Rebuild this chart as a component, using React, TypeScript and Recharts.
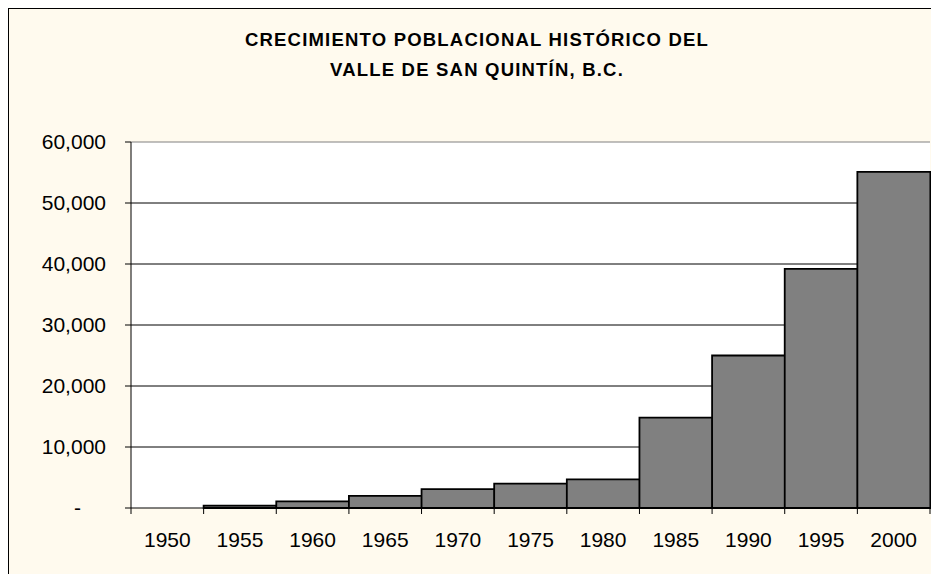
import React from "react";
import { BarChart, Bar, XAxis, YAxis, CartesianGrid, ReferenceLine } from "recharts";

const years = ["1950", "1955", "1960", "1965", "1970", "1975", "1980", "1985", "1990", "1995", "2000"];
const population = [0, 400, 1100, 2000, 3100, 4000, 4700, 14800, 25000, 39200, 55100];
const yTicks = [0, 10000, 20000, 30000, 40000, 50000, 60000];
const gridValues = [10000, 20000, 30000, 40000, 50000];
const titleLines = ["CRECIMIENTO POBLACIONAL HISTÓRICO DEL", "VALLE DE SAN QUINTÍN, B.C."];

const data = years.map((y, i) => ({ year: y, value: population[i] }));

const W = 931;
const H = 574;
const FRAME_H = 582;
const M = { top: 134, right: 9, bottom: 0, left: 0 };
const Y_W = 123;
const X_H = 74;
const PLOT_W = W - M.left - M.right - Y_W;
const BAND = PLOT_W / years.length;
const FONT = "'Liberation Sans', Arial, sans-serif";

const fmt = (v: number) => (v === 0 ? "-" : v.toLocaleString("en-US"));

const XTick = (props: any) => {
  const { x, y, payload, index } = props;
  const half = BAND / 2;
  return (
    <g>
      <line x1={x - half} x2={x - half} y1={y} y2={y + 6} stroke="#000" strokeWidth={1} />
      {index === years.length - 1 && (
        <line x1={x + half} x2={x + half} y1={y} y2={y + 6} stroke="#000" strokeWidth={1} />
      )}
      <text x={x} y={y + 39} textAnchor="middle" fontSize={21} fill="#000" fontFamily={FONT}>
        {payload.value}
      </text>
    </g>
  );
};

const YTick = (props: any) => {
  const { x, y, payload } = props;
  const isZero = payload.value === 0;
  return (
    <text
      x={isZero ? x - 25 : x}
      y={y}
      dy="0.355em"
      textAnchor="end"
      fontSize={21}
      fill="#000"
      fontFamily={FONT}
    >
      {fmt(payload.value)}
    </text>
  );
};

export default function App() {
  return (
    <div
      style={{
        position: "relative",
        width: W,
        height: FRAME_H,
        background: "#FFFAEE",
        marginBottom: -16,
        overflow: "hidden",
      }}
    >
      <div
        style={{
          position: "absolute",
          left: 0,
          top: 0,
          width: W,
          height: FRAME_H,
          borderTop: "1px solid #000",
          borderLeft: "1px solid #000",
          boxSizing: "border-box",
          pointerEvents: "none",
        }}
      />
      <div
        style={{
          position: "absolute",
          left: 0,
          top: 0,
          width: 938,
          textAlign: "center",
          fontFamily: FONT,
          fontWeight: "bold",
          fontSize: 18.5,
          letterSpacing: 1.2,
          color: "#000",
          lineHeight: "30px",
          paddingTop: 17,
        }}
      >
        {titleLines.map((t) => (
          <div key={t}>{t}</div>
        ))}
      </div>
      <div style={{ position: "absolute", left: 0, top: 0 }}>
        <BarChart width={W} height={H} data={data} margin={M} barCategoryGap={0} barGap={0}>
          <CartesianGrid
            vertical={false}
            horizontalValues={gridValues}
            stroke="#000"
            strokeWidth={1}
            fill="#FFFFFF"
            fillOpacity={1}
          />
          <XAxis
            dataKey="year"
            height={X_H}
            interval={0}
            tickSize={0}
            tickMargin={0}
            tickLine={false}
            axisLine={{ stroke: "#000", strokeWidth: 1 }}
            tick={<XTick />}
          />
          <YAxis
            width={Y_W}
            domain={[0, 60000]}
            ticks={yTicks}
            interval={0}
            tickSize={6}
            tickMargin={19}
            tickLine={{ stroke: "#000", strokeWidth: 1 }}
            axisLine={{ stroke: "#000", strokeWidth: 1 }}
            tick={<YTick />}
          />
          <YAxis
            yAxisId="r"
            orientation="right"
            width={0}
            domain={[0, 60000]}
            tick={false}
            tickLine={false}
            axisLine={{ stroke: "#808080", strokeWidth: 1 }}
          />
          <ReferenceLine y={60000} stroke="#808080" strokeWidth={1} />
          <Bar
            dataKey="value"
            fill="#808080"
            stroke="#000"
            strokeWidth={1.8}
            isAnimationActive={false}
          />
        </BarChart>
      </div>
    </div>
  );
}
